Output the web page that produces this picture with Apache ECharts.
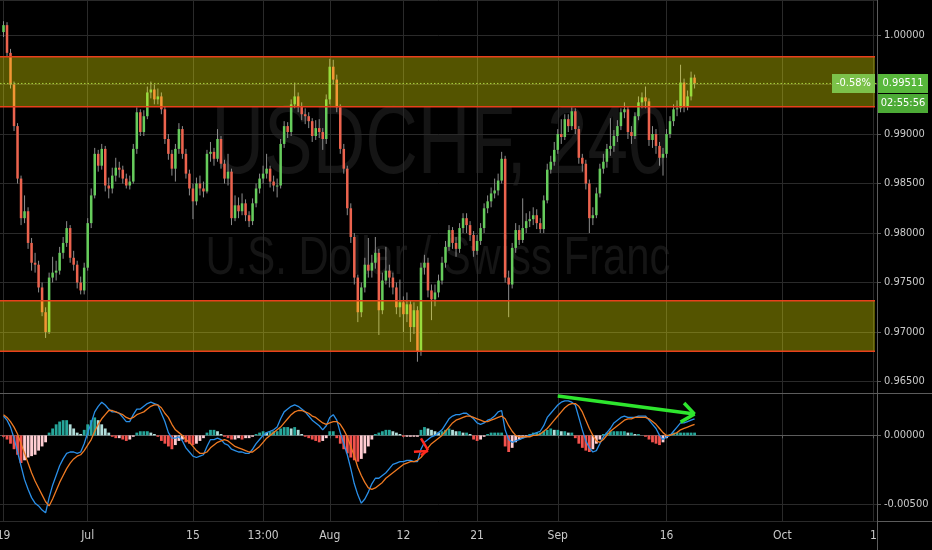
<!DOCTYPE html>
<html><head><meta charset="utf-8">
<script src="https://cdn.jsdelivr.net/npm/echarts@6/dist/echarts.min.js"></script>
<style>html,body{margin:0;padding:0;background:#000;}#c{width:932px;height:550px;}</style>
</head><body><div id="c"></div>
<script>
// ---------- data ----------
const firstOpen = 1.0003;
const closes = [
 1.0010,0.9982,0.9950,0.9908,0.9855,0.9815,0.9822,0.9790,0.9770,0.9768,
 0.9745,0.9720,0.9700,0.9755,0.9760,0.9762,0.9780,0.9790,0.9805,0.9775,
 0.9768,0.9750,0.9742,0.9765,0.9810,0.9838,0.9880,0.9868,0.9885,0.9848,
 0.9845,0.9858,0.9866,0.9864,0.9855,0.9848,0.9852,0.9885,0.9922,0.9902,
 0.9918,0.9942,0.9945,0.9935,0.9938,0.9925,0.9895,0.9880,0.9865,0.9885,
 0.9905,0.9880,0.9860,0.9845,0.9832,0.9850,0.9845,0.9842,0.9880,0.9882,
 0.9875,0.9895,0.9870,0.9855,0.9862,0.9815,0.9828,0.9822,0.9830,0.9818,
 0.9812,0.9830,0.9845,0.9855,0.9860,0.9865,0.9852,0.9848,0.9848,0.9890,
 0.9908,0.9902,0.9930,0.9938,0.9928,0.9920,0.9918,0.9913,0.9898,0.9906,
 0.9902,0.9895,0.9935,0.9968,0.9955,0.9927,0.9885,0.9865,0.9825,0.9796,
 0.9755,0.9720,0.9745,0.9768,0.9762,0.9770,0.9780,0.9722,0.9752,0.9762,
 0.9755,0.9745,0.9725,0.9730,0.9718,0.9728,0.9705,0.9722,0.9680,0.9765,
 0.9770,0.9742,0.9733,0.9740,0.9752,0.9770,0.9786,0.9803,0.9790,0.9784,
 0.9805,0.9815,0.9808,0.9798,0.9782,0.9792,0.9805,0.9825,0.9832,0.9840,
 0.9843,0.9853,0.9875,0.9755,0.9748,0.9785,0.9803,0.9793,0.9805,0.9812,
 0.9814,0.9818,0.9810,0.9804,0.9833,0.9864,0.9872,0.9884,0.9900,0.9897,
 0.9915,0.9908,0.9923,0.9905,0.9876,0.9870,0.9850,0.9815,0.9818,0.9840,
 0.9865,0.9872,0.9885,0.9888,0.9898,0.9908,0.9922,0.9925,0.9902,0.9898,
 0.9918,0.9932,0.9937,0.9933,0.9894,0.9900,0.9888,0.9876,0.9880,0.9900,
 0.9913,0.9925,0.9926,0.9952,0.9928,0.9938,0.9957,0.99511];
const highs = [
 1.0014,1.0013,0.9986,0.9953,0.9911,0.9858,0.9838,0.9826,0.9795,0.9780,
 0.9772,0.9750,0.9725,0.9760,0.9776,0.9772,0.9786,0.9796,0.9812,0.9808,
 0.9782,0.9772,0.9756,0.9770,0.9815,0.9845,0.9886,0.9884,0.9890,0.9888,
 0.9856,0.9866,0.9876,0.9872,0.9868,0.9860,0.9858,0.9890,0.9927,0.9925,
 0.9924,0.9948,0.9953,0.9950,0.9946,0.9942,0.9928,0.9900,0.9884,0.9890,
 0.9911,0.9908,0.9885,0.9864,0.9850,0.9856,0.9858,0.9852,0.9884,0.9892,
 0.9886,0.9905,0.9898,0.9874,0.9880,0.9865,0.9838,0.9836,0.9840,0.9834,
 0.9822,0.9835,0.9850,0.9860,0.9868,0.9880,0.9868,0.9858,0.9855,0.9895,
 0.9913,0.9912,0.9935,0.9952,0.9942,0.9932,0.9926,0.9922,0.9916,0.9914,
 0.9915,0.9906,0.9940,0.9976,0.9975,0.9960,0.9930,0.9890,0.9868,0.9830,
 0.9800,0.9758,0.9750,0.9775,0.9795,0.9778,0.9796,0.9784,0.9760,0.9786,
 0.9768,0.9760,0.9750,0.9753,0.9736,0.9740,0.9732,0.9730,0.9726,0.9770,
 0.9778,0.9775,0.9748,0.9748,0.9758,0.9776,0.9792,0.9808,0.9806,0.9796,
 0.9810,0.9820,0.9820,0.9812,0.9802,0.9798,0.9810,0.9830,0.9838,0.9846,
 0.9855,0.9860,0.9882,0.9878,0.9762,0.9790,0.9810,0.9808,0.9835,0.9820,
 0.9822,0.9826,0.9824,0.9815,0.9838,0.9870,0.9878,0.9892,0.9905,0.9915,
 0.9920,0.9920,0.9927,0.9926,0.9908,0.9880,0.9874,0.9854,0.9826,0.9846,
 0.9870,0.9880,0.9890,0.9916,0.9904,0.9914,0.9926,0.9932,0.9928,0.9908,
 0.9922,0.9938,0.9942,0.9948,0.9936,0.9908,0.9905,0.9892,0.9886,0.9905,
 0.9918,0.9930,0.9934,0.9970,0.9956,0.9944,0.9963,0.9960];
const lows = [
 0.9998,0.9978,0.9946,0.9903,0.9850,0.9808,0.9810,0.9784,0.9762,0.9760,
 0.9740,0.9716,0.9694,0.9698,0.9750,0.9752,0.9758,0.9774,0.9786,0.9770,
 0.9762,0.9744,0.9738,0.9738,0.9762,0.9805,0.9835,0.9862,0.9864,0.9842,
 0.9835,0.9840,0.9852,0.9856,0.9850,0.9845,0.9844,0.9850,0.9880,0.9898,
 0.9898,0.9915,0.9936,0.9930,0.9930,0.9920,0.9890,0.9874,0.9858,0.9852,
 0.9880,0.9875,0.9855,0.9838,0.9814,0.9828,0.9838,0.9836,0.9840,0.9872,
 0.9868,0.9872,0.9865,0.9850,0.9848,0.9808,0.9812,0.9815,0.9818,0.9812,
 0.9806,0.9808,0.9826,0.9840,0.9850,0.9855,0.9846,0.9842,0.9836,0.9845,
 0.9886,0.9896,0.9898,0.9926,0.9922,0.9914,0.9910,0.9906,0.9892,0.9894,
 0.9896,0.9884,0.9890,0.9930,0.9950,0.9922,0.9880,0.9860,0.9818,0.9790,
 0.9748,0.9710,0.9715,0.9740,0.9755,0.9755,0.9764,0.9697,0.9718,0.9748,
 0.9745,0.9738,0.9718,0.9715,0.9700,0.9710,0.9690,0.9698,0.9670,0.9676,
 0.9758,0.9735,0.9712,0.9726,0.9735,0.9748,0.9765,0.9782,0.9784,0.9776,
 0.9780,0.9800,0.9800,0.9792,0.9776,0.9778,0.9788,0.9800,0.9820,0.9826,
 0.9835,0.9838,0.9850,0.9750,0.9715,0.9744,0.9780,0.9788,0.9790,0.9800,
 0.9806,0.9808,0.9804,0.9800,0.9800,0.9830,0.9860,0.9868,0.9880,0.9890,
 0.9894,0.9902,0.9904,0.9900,0.9870,0.9862,0.9844,0.9800,0.9808,0.9815,
 0.9836,0.9860,0.9866,0.9878,0.9882,0.9892,0.9904,0.9916,0.9895,0.9890,
 0.9895,0.9914,0.9926,0.9926,0.9888,0.9886,0.9880,0.9868,0.9858,0.9876,
 0.9896,0.9908,0.9918,0.9922,0.9922,0.9924,0.9934,0.9946];
const macdLine = [
 0.0014,0.0011,0.0006,-0.0002,-0.0012,-0.0022,-0.0032,-0.0039,-0.0045,-0.0049,
 -0.0051,-0.0054,-0.0056,-0.0045,-0.0036,-0.0029,-0.0022,-0.0017,-0.0013,-0.0012,
 -0.0012,-0.0013,-0.0012,-0.0006,0.0002,0.0009,0.0017,0.0021,0.0024,0.0022,
 0.0019,0.0017,0.0017,0.0016,0.0013,0.0010,0.0010,0.0015,0.0019,0.0019,
 0.0021,0.0023,0.0024,0.0023,0.0022,0.0016,0.0010,0.0002,-0.0002,-0.0002,
 -0.0001,-0.0004,-0.0009,-0.0012,-0.0015,-0.0016,-0.0015,-0.0014,-0.0008,-0.0003,
 -0.0003,-0.0002,-0.0003,-0.0006,-0.0007,-0.0010,-0.0011,-0.0012,-0.0012,-0.0013,
 -0.0013,-0.0010,-0.0006,-0.0003,0.0000,0.0002,0.0003,0.0004,0.0006,0.0012,
 0.0017,0.0019,0.0021,0.0022,0.0021,0.0019,0.0017,0.0014,0.0011,0.0009,
 0.0007,0.0004,0.0007,0.0013,0.0015,0.0011,0.0002,-0.0006,-0.0014,-0.0024,
 -0.0035,-0.0043,-0.0049,-0.0046,-0.0041,-0.0035,-0.0031,-0.0031,-0.0029,-0.0027,
 -0.0024,-0.0021,-0.0020,-0.0019,-0.0019,-0.0018,-0.0018,-0.0019,-0.0019,-0.0010,
 -0.0005,-0.0003,-0.0001,0.0000,0.0002,0.0004,0.0008,0.0012,0.0014,0.0015,
 0.0015,0.0016,0.0016,0.0014,0.0012,0.0009,0.0008,0.0009,0.0011,0.0012,
 0.0014,0.0017,0.0018,0.0004,-0.0003,-0.0005,-0.0004,-0.0003,-0.0002,-0.0001,
 0.0000,0.0001,0.0002,0.0003,0.0007,0.0013,0.0016,0.0019,0.0022,0.0024,
 0.0025,0.0025,0.0024,0.0022,0.0013,0.0004,-0.0004,-0.0009,-0.0012,-0.0011,
 -0.0006,-0.0001,0.0002,0.0005,0.0009,0.0011,0.0013,0.0014,0.0013,0.0013,
 0.0013,0.0014,0.0014,0.0014,0.0011,0.0008,0.0005,0.0000,-0.0003,-0.0001,
 0.0000,0.0003,0.0006,0.0009,0.0009,0.0010,0.0011,0.0012];
const signalLine = [
 0.0015,0.0013,0.0010,0.0006,0.0001,-0.0006,-0.0013,-0.0020,-0.0027,-0.0033,
 -0.0038,-0.0043,-0.0048,-0.0051,-0.0046,-0.0040,-0.0034,-0.0029,-0.0024,-0.0020,
 -0.0017,-0.0015,-0.0014,-0.0011,-0.0007,-0.0003,0.0003,0.0008,0.0012,0.0015,
 0.0018,0.0018,0.0017,0.0016,0.0015,0.0013,0.0012,0.0013,0.0015,0.0016,
 0.0017,0.0019,0.0021,0.0022,0.0022,0.0020,0.0016,0.0013,0.0008,0.0004,
 0.0002,0.0000,-0.0003,-0.0005,-0.0008,-0.0011,-0.0013,-0.0013,-0.0012,-0.0009,
 -0.0007,-0.0005,-0.0004,-0.0003,-0.0004,-0.0006,-0.0008,-0.0009,-0.0010,-0.0011,
 -0.0012,-0.0012,-0.0010,-0.0008,-0.0005,-0.0002,0.0000,0.0002,0.0004,0.0006,
 0.0009,0.0012,0.0015,0.0017,0.0018,0.0018,0.0017,0.0016,0.0014,0.0013,
 0.0011,0.0009,0.0008,0.0009,0.0010,0.0010,0.0008,0.0004,-0.0001,-0.0008,
 -0.0015,-0.0023,-0.0029,-0.0034,-0.0038,-0.0039,-0.0038,-0.0036,-0.0034,-0.0031,
 -0.0029,-0.0027,-0.0025,-0.0023,-0.0021,-0.0020,-0.0019,-0.0019,-0.0018,-0.0016,
 -0.0013,-0.0009,-0.0006,-0.0004,-0.0002,0.0000,0.0003,0.0006,0.0009,0.0011,
 0.0012,0.0013,0.0014,0.0014,0.0013,0.0012,0.0011,0.0010,0.0010,0.0011,
 0.0012,0.0013,0.0014,0.0012,0.0007,0.0003,0.0000,-0.0001,-0.0001,-0.0001,
 -0.0001,0.0000,0.0000,0.0001,0.0003,0.0005,0.0008,0.0011,0.0014,0.0017,
 0.0020,0.0022,0.0023,0.0023,0.0021,0.0017,0.0011,0.0005,0.0000,-0.0004,
 -0.0005,-0.0003,0.0000,0.0003,0.0005,0.0007,0.0009,0.0011,0.0012,0.0012,
 0.0013,0.0013,0.0013,0.0013,0.0012,0.0010,0.0008,0.0005,0.0002,0.0000,
 0.0000,0.0001,0.0002,0.0004,0.0005,0.0006,0.0007,0.0008];
const histogram = [
 -0.0001,-0.0003,-0.0006,-0.0010,-0.0014,-0.0020,-0.0018,-0.0016,-0.0015,-0.0014,
 -0.0011,-0.0008,-0.0005,0.0002,0.0005,0.0008,0.0010,0.0011,0.0011,0.0008,
 0.0005,0.0002,0.0001,0.0004,0.0008,0.0011,0.0013,0.0011,0.0008,0.0005,
 0.0002,-0.0001,-0.0002,-0.0002,-0.0003,-0.0004,-0.0003,-0.0001,0.0002,0.0003,
 0.0003,0.0003,0.0002,0.0001,-0.0001,-0.0004,-0.0006,-0.0008,-0.0010,-0.0007,
 -0.0004,-0.0003,-0.0005,-0.0006,-0.0007,-0.0006,-0.0004,-0.0002,0.0002,0.0004,
 0.0004,0.0003,0.0001,-0.0001,-0.0002,-0.0003,-0.0003,-0.0002,-0.0003,-0.0002,
 -0.0002,-0.0001,0.0001,0.0002,0.0003,0.0002,0.0003,0.0003,0.0003,0.0005,
 0.0006,0.0006,0.0005,0.0006,0.0004,0.0001,-0.0001,-0.0002,-0.0003,-0.0004,
 -0.0005,-0.0004,-0.0002,0.0003,0.0003,-0.0002,-0.0006,-0.0010,-0.0013,-0.0016,
 -0.0018,-0.0019,-0.0017,-0.0013,-0.0008,-0.0003,0.0001,0.0002,0.0003,0.0004,
 0.0004,0.0003,0.0002,0.0001,-0.0001,-0.0001,-0.0001,-0.0001,-0.0001,0.0004,
 0.0006,0.0005,0.0004,0.0003,0.0002,0.0003,0.0004,0.0005,0.0004,0.0003,
 0.0003,0.0002,0.0002,0.0001,-0.0003,-0.0004,-0.0003,-0.0001,0.0001,0.0002,
 0.0002,0.0002,0.0002,-0.0008,-0.0012,-0.0009,-0.0005,-0.0003,-0.0002,-0.0001,
 0.0001,0.0002,0.0002,0.0002,0.0003,0.0004,0.0005,0.0004,0.0004,0.0003,
 0.0003,0.0002,0.0002,-0.0002,-0.0006,-0.0009,-0.0011,-0.0012,-0.0010,-0.0006,
 -0.0003,0.0001,0.0002,0.0003,0.0003,0.0003,0.0003,0.0003,0.0002,0.0002,
 0.0001,0.0001,0.0000,-0.0001,-0.0003,-0.0005,-0.0006,-0.0007,-0.0005,-0.0002,
 0.0001,0.0002,0.0002,0.0002,0.0002,0.0002,0.0002,0.0002];
const slotCount = 251;
const labelSlots = [1, 25, 55, 75, 94, 115, 136, 159, 190, 223, 249];
const labelTexts = ['19', 'Jul', '15', '13:00', 'Aug', '12', '21', 'Sep', '16', 'Oct', '1'];
const upperBand = [0.99276, 0.99781];
const lowerBand = [0.96805, 0.97316];
const lastPrice = 0.99511;
const lastChange = '-0.58%';
const countdown = '02:55:56';
const symbolTitle = 'USDCHF, 240';
const symbolName = 'U.S. Dollar / Swiss Franc';
const greenArrowShaft = [[159, 0.00285], [198, 0.00154]];
const greenArrowTop = [[195, 0.00234], [198, 0.00154]];
const greenArrowBottom = [[198, 0.00154], [194, 0.00096]];
const redArrowShaft = [[118, -0.00119], [122, -0.00112]];
const redArrowTop = [[120, -0.00022], [122, -0.00107]];
const redArrowBottom = [[122, -0.00107], [120, -0.00143]];

// ---------- chart ----------
const NARROW = "'Liberation Sans Narrow','DejaVu Sans Condensed','Arial Narrow',sans-serif";
const GRID_LINE = '#2a2a2a', AXIS_LINE = '#5c5c5c', LABEL = '#c9c9c9';
const UP = '#66cc5c', DOWN = '#ec634e', WICK = '#8d8d8d';
const slotNames = Array.from({length: slotCount}, (_, i) => 's' + i);
const labelAt = {};
labelSlots.forEach((s, k) => { labelAt[s] = labelTexts[k]; });
const isLabelSlot = (i) => labelAt[i] !== undefined;

const candleData = closes.map((c, i) => [i + 1, i === 0 ? firstOpen : closes[i - 1], c, lows[i], highs[i]]);
const histData = histogram.map((v, i) => {
  const prev = i === 0 ? 0 : histogram[i - 1];
  let color;
  if (v >= 0) color = v >= prev ? '#26a69a' : '#b2dfdb';
  else color = v < prev ? '#f2524d' : '#ffcdd2';
  return {value: [i + 1, v], itemStyle: {color}};
});

function renderCandle(params, api) {
  const x = api.value(0), o = api.value(1), c = api.value(2);
  const lo = Math.min(api.value(3), o, c), hi = Math.max(api.value(4), o, c);
  const pO = api.coord([x, o]), pC = api.coord([x, c]);
  const pL = api.coord([x, lo]), pH = api.coord([x, hi]);
  const bw = Math.max(1.2, api.size([1, 0])[0] * 0.72);
  const top = Math.min(pO[1], pC[1]);
  const h = Math.max(Math.abs(pO[1] - pC[1]), 1);
  return {type: 'group', children: [
    {type: 'line', shape: {x1: pL[0], y1: pL[1], x2: pH[0], y2: pH[1]}, style: {stroke: WICK, lineWidth: 1}},
    {type: 'rect', shape: {x: pO[0] - bw / 2, y: top, width: bw, height: h}, style: {fill: c >= o ? UP : DOWN}}
  ]};
}
function renderBand(params, api) {
  const cs = params.coordSys;
  const yTop = api.coord([0, api.value(2)])[1], yBot = api.coord([0, api.value(1)])[1];
  const x0 = cs.x, x1 = cs.x + cs.width - 2;
  return {type: 'group', children: [
    {type: 'rect', shape: {x: x0, y: yTop, width: x1 - x0, height: yBot - yTop}, style: {fill: 'rgba(255,255,0,0.33)'}},
    {type: 'line', shape: {x1: x0, y1: yTop, x2: x1, y2: yTop}, style: {stroke: '#e8401c', lineWidth: 1.5}},
    {type: 'line', shape: {x1: x0, y1: yBot, x2: x1, y2: yBot}, style: {stroke: '#e8401c', lineWidth: 1.5}}
  ]};
}
function renderPriceLine(params, api) {
  const cs = params.coordSys;
  const y = api.coord([0, api.value(1)])[1];
  return {type: 'line', shape: {x1: cs.x, y1: y, x2: cs.x + cs.width, y2: y},
    style: {stroke: '#a9d23c', lineWidth: 1, lineDash: [1.5, 2]}};
}
const seg = (pair, color, width) => [
  {coord: pair[0], lineStyle: {color, width, type: 'solid'}},
  {coord: pair[1]}
];

const chart = echarts.init(document.getElementById('c'));
chart.setOption({
  animation: false,
  backgroundColor: '#000000',
  grid: [
    {left: 0, right: 55, top: 0, height: 393, outerBoundsMode: 'none', containLabel: false},
    {left: 0, right: 55, top: 393, bottom: 29, outerBoundsMode: 'none', containLabel: false}
  ],
  xAxis: [
    {type: 'category', gridIndex: 0, data: slotNames, boundaryGap: false,
     axisLine: {show: true, lineStyle: {color: AXIS_LINE}}, axisTick: {show: false}, axisLabel: {show: false},
     splitLine: {show: true, interval: (i) => isLabelSlot(i), lineStyle: {color: GRID_LINE}}},
    {type: 'category', gridIndex: 1, data: slotNames, boundaryGap: false,
     axisLine: {show: true, lineStyle: {color: AXIS_LINE}},
     axisTick: {show: true, interval: (i) => isLabelSlot(i), length: 3, lineStyle: {color: AXIS_LINE}},
     axisLabel: {show: true, interval: (i) => isLabelSlot(i), formatter: (v, i) => labelAt[i] || '',
       color: LABEL, fontSize: 12, fontFamily: NARROW, margin: 9},
     splitLine: {show: true, interval: (i) => isLabelSlot(i), lineStyle: {color: GRID_LINE}}}
  ],
  yAxis: [
    {type: 'value', gridIndex: 0, position: 'right', min: 0.96384, max: 1.00354, splitNumber: 8,
     axisLine: {show: true, lineStyle: {color: AXIS_LINE}},
     axisTick: {show: true, length: 4, lineStyle: {color: AXIS_LINE}},
     axisLabel: {color: LABEL, fontSize: 11, fontFamily: NARROW, margin: 7, showMinLabel: false, showMaxLabel: false,
       formatter: (v) => v.toFixed(5)},
     splitLine: {show: true, lineStyle: {color: GRID_LINE}}},
    {type: 'value', gridIndex: 1, position: 'right', min: -0.00619, max: 0.003065, splitNumber: 2,
     axisLine: {show: true, lineStyle: {color: AXIS_LINE}},
     axisTick: {show: true, length: 4, lineStyle: {color: AXIS_LINE}},
     axisLabel: {color: LABEL, fontSize: 11, fontFamily: NARROW, margin: 7, showMinLabel: false, showMaxLabel: false,
       formatter: (v) => v.toFixed(5)},
     splitLine: {show: true, lineStyle: {color: GRID_LINE}}}
  ],
  series: [
    {type: 'custom', name: 'USDCHF', xAxisIndex: 0, yAxisIndex: 0, z: 3, renderItem: renderCandle,
     data: candleData, encode: {x: 0, y: [1, 2, 3, 4]}},
    {type: 'custom', name: 'zones', xAxisIndex: 0, yAxisIndex: 0, z: 10, silent: true, clip: false,
     renderItem: renderBand, data: [[0, upperBand[0], upperBand[1]], [0, lowerBand[0], lowerBand[1]]], encode: {x: 0, y: [1, 2]}},
    {type: 'custom', name: 'last', xAxisIndex: 0, yAxisIndex: 0, z: 11, silent: true,
     renderItem: renderPriceLine, data: [[0, lastPrice]], encode: {x: 0, y: 1}},
    {type: 'bar', name: 'Histogram', xAxisIndex: 1, yAxisIndex: 1, data: histData, barCategoryGap: '20%', z: 2},
    {type: 'line', name: 'MACD', xAxisIndex: 1, yAxisIndex: 1, data: macdLine.map((v, i) => [i + 1, v]),
     showSymbol: false, lineStyle: {color: '#2a8fe8', width: 1.3}, z: 3,
     markLine: {silent: true, symbol: ['none', 'none'], label: {show: false}, z: 20,
       data: [
         seg(greenArrowShaft, '#2ee62e', 3.5), seg(greenArrowTop, '#2ee62e', 3.5), seg(greenArrowBottom, '#2ee62e', 3.5),
         seg(redArrowShaft, '#ff2a1f', 2.5), seg(redArrowTop, '#ff2a1f', 2.5), seg(redArrowBottom, '#ff2a1f', 2.5)
       ]}},
    {type: 'line', name: 'Signal', xAxisIndex: 1, yAxisIndex: 1, data: signalLine.map((v, i) => [i + 1, v]),
     showSymbol: false, lineStyle: {color: '#ef7a22', width: 1.3}, z: 3}
  ]
});

const py = chart.convertToPixel({yAxisIndex: 0}, lastPrice);
const tagFont = {fontSize: 11, fontFamily: NARROW, fill: '#ffffff', align: 'center', verticalAlign: 'middle'};
chart.setOption({
  graphic: [
    {type: 'text', x: 440, y: 146, z: -1, scaleX: 0.75, silent: true,
     style: {text: symbolTitle, fill: '#151515', fontSize: 97, fontFamily: "'Liberation Sans',Arial,sans-serif", align: 'center', verticalAlign: 'middle'}},
    {type: 'text', x: 438, y: 259, z: -1, scaleX: 0.775, silent: true,
     style: {text: symbolName, fill: '#151515', fontSize: 54, fontFamily: "'Liberation Sans',Arial,sans-serif", align: 'center', verticalAlign: 'middle'}},
    {type: 'line', z: 50, silent: true, shape: {x1: 877, y1: 393.5, x2: 932, y2: 393.5}, style: {stroke: AXIS_LINE, lineWidth: 1}},
    {type: 'line', z: 50, silent: true, shape: {x1: 877, y1: 521.5, x2: 932, y2: 521.5}, style: {stroke: AXIS_LINE, lineWidth: 1}},
    {type: 'line', z: 50, silent: true, shape: {x1: 877.5, y1: 521, x2: 877.5, y2: 550}, style: {stroke: AXIS_LINE, lineWidth: 1}},
    {type: 'rect', z: 100, silent: true, shape: {x: 832, y: py - 9.5, width: 43, height: 19}, style: {fill: '#7cc24a'}},
    {type: 'text', z: 101, silent: true, x: 853.5, y: py, style: Object.assign({text: lastChange}, tagFont)},
    {type: 'rect', z: 100, silent: true, shape: {x: 878, y: py - 9.5, width: 50, height: 19}, style: {fill: '#58b83c'}},
    {type: 'text', z: 101, silent: true, x: 903, y: py, style: Object.assign({text: lastPrice.toFixed(5)}, tagFont)},
    {type: 'rect', z: 100, silent: true, shape: {x: 878, y: py + 10.5, width: 50, height: 19}, style: {fill: '#4caa36'}},
    {type: 'text', z: 101, silent: true, x: 903, y: py + 20, style: Object.assign({text: countdown}, tagFont)}
  ]
});
</script>
</body></html>
